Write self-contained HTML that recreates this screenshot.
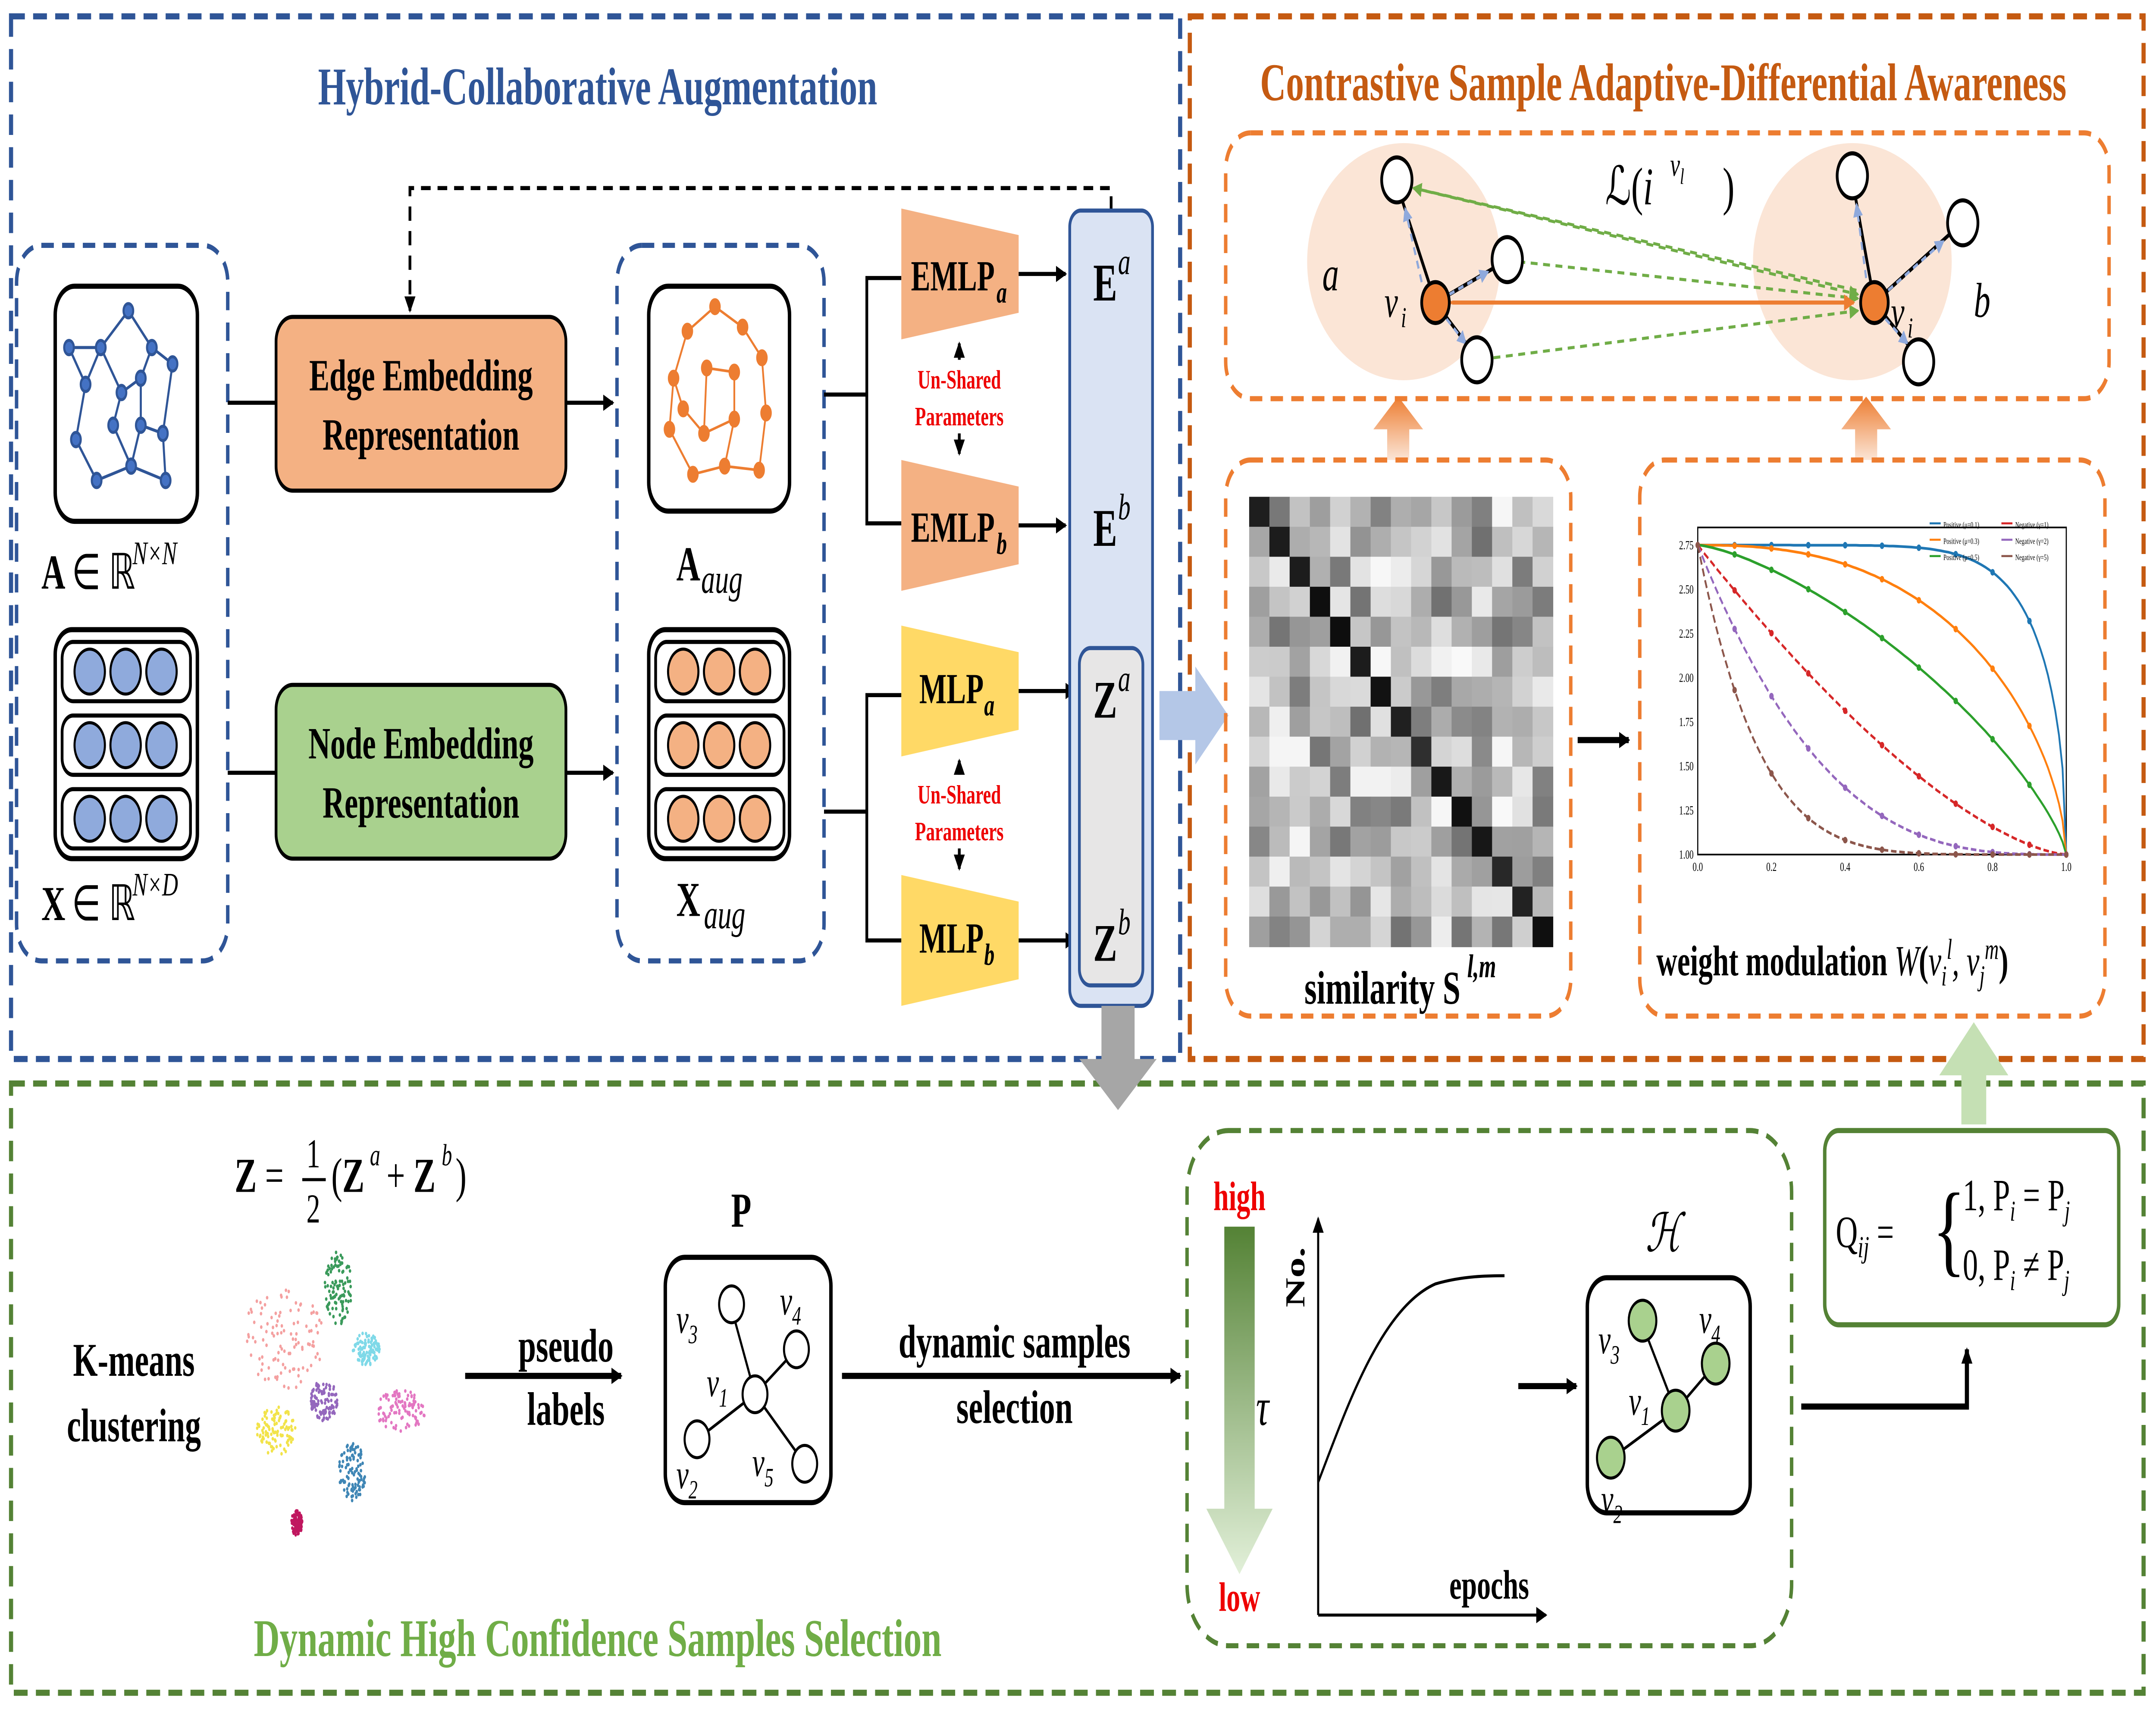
<!DOCTYPE html>
<html><head><meta charset="utf-8">
<style>
html,body{margin:0;padding:0;background:#fff;width:100%;height:100%;overflow:hidden;}
svg{display:block;position:absolute;left:0;top:0;width:100vw;height:100vh;}
text{font-family:"Liberation Serif",serif;}
.b{font-weight:bold;}
</style></head>
<body>
<svg id="s" viewBox="0 0 1562 842.3" preserveAspectRatio="none" xmlns="http://www.w3.org/2000/svg">
<defs>
<marker id="ar" markerWidth="8" markerHeight="8" refX="7" refY="4" orient="auto" markerUnits="userSpaceOnUse"><path d="M0,0 L8,4 L0,8 z" fill="#000"/></marker>
<marker id="arO" markerWidth="8" markerHeight="8" refX="7" refY="4" orient="auto" markerUnits="userSpaceOnUse"><path d="M0,0 L8,4 L0,8 z" fill="#ed7d31"/></marker>
<marker id="arG" markerWidth="7" markerHeight="7" refX="6" refY="3.5" orient="auto" markerUnits="userSpaceOnUse"><path d="M0,0 L7,3.5 L0,7 z" fill="#70ad47"/></marker>
<marker id="arB" markerWidth="7" markerHeight="7" refX="6" refY="3.5" orient="auto" markerUnits="userSpaceOnUse"><path d="M0,0 L7,3.5 L0,7 z" fill="#8fa9dc"/></marker>
<linearGradient id="gg" x1="0" y1="0" x2="0" y2="1"><stop offset="0" stop-color="#548235"/><stop offset="1" stop-color="#e2f0d9"/></linearGradient>
<linearGradient id="og" x1="0" y1="1" x2="0" y2="0"><stop offset="0" stop-color="#fbe5d6"/><stop offset="1" stop-color="#ed7d31"/></linearGradient>
</defs>

<rect x="8" y="8" width="847" height="510" fill="none" stroke="#2f5597" stroke-width="3" stroke-dasharray="10,6"/>
<rect x="862" y="8" width="691" height="510" fill="none" stroke="#c55a11" stroke-width="3" stroke-dasharray="10,6"/>
<rect x="8" y="530" width="1545" height="298" fill="none" stroke="#548235" stroke-width="3" stroke-dasharray="10,6"/>
<text x="433" y="51" text-anchor="middle" class="b" font-size="26" fill="#2f5597">Hybrid-Collaborative Augmentation</text>
<text x="1205" y="49" text-anchor="middle" class="b" font-size="26" fill="#c55a11">Contrastive Sample Adaptive-Differential Awareness</text>
<text x="433" y="810" text-anchor="middle" class="b" font-size="26" fill="#70ad47">Dynamic High Confidence Samples Selection</text>

<rect x="12" y="120" width="153" height="350" rx="18" fill="none" stroke="#2f5597" stroke-width="2.5" stroke-dasharray="9,6"/>
<rect x="40" y="140" width="103" height="115" rx="14" fill="#fff" stroke="#000" stroke-width="2.5"/>
<g id="g1" stroke="#2f5597" stroke-width="1.5" fill="#4472c4"></g>
<text x="30" y="288" class="b" font-size="24">A</text><text x="52" y="288" font-size="24">∈ ℝ</text><text x="96" y="276" font-size="16" font-style="italic">N×N</text>
<rect x="40" y="308" width="103" height="112" rx="12" fill="#fff" stroke="#000" stroke-width="2.5"/>
<g id="fx1"></g>
<text x="30" y="450" class="b" font-size="24">X</text><text x="52" y="450" font-size="24">∈ ℝ</text><text x="96" y="438" font-size="16" font-style="italic">N×D</text>

<line x1="165" y1="197" x2="200" y2="197" stroke="#000" stroke-width="2"/>
<line x1="165" y1="378" x2="200" y2="378" stroke="#000" stroke-width="2"/>
<rect x="200" y="155" width="210" height="85" rx="12" fill="#f4b183" stroke="#000" stroke-width="2"/>
<text x="305" y="191" text-anchor="middle" class="b" font-size="22">Edge Embedding</text>
<text x="305" y="220" text-anchor="middle" class="b" font-size="22">Representation</text>
<rect x="200" y="335" width="210" height="85" rx="12" fill="#a9d18e" stroke="#000" stroke-width="2"/>
<text x="305" y="371" text-anchor="middle" class="b" font-size="22">Node Embedding</text>
<text x="305" y="400" text-anchor="middle" class="b" font-size="22">Representation</text>
<line x1="410" y1="197" x2="444" y2="197" stroke="#000" stroke-width="2" marker-end="url(#ar)"/>
<line x1="410" y1="378" x2="444" y2="378" stroke="#000" stroke-width="2" marker-end="url(#ar)"/>

<path d="M805,103 V92 H297 V152" fill="none" stroke="#000" stroke-width="2" stroke-dasharray="7,5" marker-end="url(#ar)"/>

<rect x="447" y="120" width="150" height="350" rx="18" fill="none" stroke="#2f5597" stroke-width="2.5" stroke-dasharray="9,6"/>
<rect x="470" y="140" width="102" height="110" rx="14" fill="#fff" stroke="#000" stroke-width="2.5"/>
<g id="g2" stroke="#ed7d31" stroke-width="1.3" fill="#ed7d31"></g>
<text x="490" y="284" class="b" font-size="24">A</text><text x="508" y="290" font-size="20" font-style="italic">aug</text>
<rect x="470" y="308" width="102" height="112" rx="12" fill="#fff" stroke="#000" stroke-width="2.5"/>
<g id="fx2"></g>
<text x="490" y="448" class="b" font-size="24">X</text><text x="510" y="454" font-size="20" font-style="italic">aug</text>

<path d="M597,193 H628 V136 H653 M628,193 V256 H653" fill="none" stroke="#000" stroke-width="2"/>
<path d="M597,397 H628 V340 H653 M628,397 V460 H653" fill="none" stroke="#000" stroke-width="2"/>

<polygon points="653,102 738,115 738,153 653,166" fill="#f4b183"/>
<polygon points="653,225 738,238 738,276 653,289" fill="#f4b183"/>
<polygon points="653,306 738,319 738,357 653,370" fill="#ffd966"/>
<polygon points="653,428 738,441 738,479 653,492" fill="#ffd966"/>
<text x="660" y="142" class="b" font-size="21">EMLP</text><text x="722" y="148" class="b" font-size="15" font-style="italic">a</text>
<text x="660" y="265" class="b" font-size="21">EMLP</text><text x="722" y="271" class="b" font-size="15" font-style="italic">b</text>
<text x="666" y="344" class="b" font-size="21">MLP</text><text x="713" y="350" class="b" font-size="15" font-style="italic">a</text>
<text x="666" y="466" class="b" font-size="21">MLP</text><text x="713" y="472" class="b" font-size="15" font-style="italic">b</text>
<text x="695" y="190" text-anchor="middle" class="b" font-size="13" fill="#e00">Un-Shared</text>
<text x="695" y="208" text-anchor="middle" class="b" font-size="13" fill="#e00">Parameters</text>
<text x="695" y="393" text-anchor="middle" class="b" font-size="13" fill="#e00">Un-Shared</text>
<text x="695" y="411" text-anchor="middle" class="b" font-size="13" fill="#e00">Parameters</text>
<line x1="695" y1="176" x2="695" y2="168" stroke="#000" stroke-width="2" marker-end="url(#ar)"/>
<line x1="695" y1="212" x2="695" y2="222" stroke="#000" stroke-width="2" marker-end="url(#ar)"/>
<line x1="695" y1="379" x2="695" y2="372" stroke="#000" stroke-width="2" marker-end="url(#ar)"/>
<line x1="695" y1="415" x2="695" y2="425" stroke="#000" stroke-width="2" marker-end="url(#ar)"/>
<line x1="738" y1="134" x2="772" y2="134" stroke="#000" stroke-width="2" marker-end="url(#ar)"/>
<line x1="738" y1="257" x2="772" y2="257" stroke="#000" stroke-width="2" marker-end="url(#ar)"/>
<line x1="738" y1="338" x2="779" y2="338" stroke="#000" stroke-width="2" marker-end="url(#ar)"/>
<line x1="738" y1="460" x2="779" y2="460" stroke="#000" stroke-width="2" marker-end="url(#ar)"/>

<rect x="775" y="103" width="60" height="389" rx="8" fill="#dae3f3" stroke="#2f5597" stroke-width="2"/>
<rect x="782" y="317" width="46" height="165" rx="8" fill="#e7e6e6" stroke="#2f5597" stroke-width="2"/>
<text x="792" y="147" class="b" font-size="26">E</text><text x="810" y="134" font-size="18" font-style="italic">a</text>
<text x="792" y="267" class="b" font-size="26">E</text><text x="810" y="254" font-size="18" font-style="italic">b</text>
<text x="792" y="351" class="b" font-size="26">Z</text><text x="810" y="338" font-size="18" font-style="italic">a</text>
<text x="792" y="470" class="b" font-size="26">Z</text><text x="810" y="457" font-size="18" font-style="italic">b</text>

<polygon points="798,492 822,492 822,518 838,518 810,543 782,518 798,518" fill="#a6a6a6"/>
<polygon points="840,338 866,338 866,326 890,350 866,374 866,362 840,362" fill="#b4c7e7"/>
<polygon points="1421,550 1439,550 1439,526 1455,526 1430,500 1405,526 1421,526" fill="#c5e0b4"/>
<polygon points="1005,225 1021,225 1021,210 1031,210 1013,194 995,210 1005,210" fill="url(#og)"/>
<polygon points="1344,225 1360,225 1360,210 1370,210 1352,194 1334,210 1344,210" fill="url(#og)"/>

<rect x="888" y="65" width="640" height="130" rx="18" fill="none" stroke="#ed7d31" stroke-width="2.5" stroke-dasharray="9,6"/>
<ellipse cx="1017" cy="128" rx="70" ry="58" fill="#fbe5d6"/>
<ellipse cx="1342" cy="128" rx="72" ry="58" fill="#fbe5d6"/>
<g stroke="#000" stroke-width="2">
<line x1="1040" y1="148" x2="1012" y2="90"/><line x1="1040" y1="148" x2="1090" y2="128"/><line x1="1040" y1="148" x2="1070" y2="175"/>
<line x1="1358" y1="148" x2="1342" y2="88"/><line x1="1358" y1="148" x2="1420" y2="110"/><line x1="1358" y1="148" x2="1390" y2="175"/>
</g>
<g stroke="#8fa9dc" stroke-width="1.5" stroke-dasharray="4,3" marker-end="url(#arB)">
<line x1="1030" y1="138" x2="1018" y2="102"/><line x1="1050" y1="144" x2="1078" y2="133"/><line x1="1048" y1="156" x2="1062" y2="168"/>
<line x1="1352" y1="136" x2="1345" y2="100"/><line x1="1368" y1="142" x2="1408" y2="118"/><line x1="1366" y1="156" x2="1382" y2="168"/>
</g>
<g stroke="#70ad47" stroke-width="1.5" stroke-dasharray="5,4" marker-end="url(#arG)">
<line x1="1024" y1="92" x2="1346" y2="144"/><line x1="1100" y1="128" x2="1346" y2="146"/><line x1="1082" y1="175" x2="1346" y2="152"/>
<line x1="1345" y1="142" x2="1024" y2="92"/>
</g>
<line x1="1052" y1="148" x2="1343" y2="148" stroke="#ed7d31" stroke-width="2" marker-end="url(#arO)" marker-start="url(#arO)"/>
<g fill="#fff" stroke="#000" stroke-width="2">
<circle cx="1012" cy="88" r="11"/><circle cx="1092" cy="127" r="11"/><circle cx="1070" cy="176" r="11"/>
<circle cx="1342" cy="86" r="11"/><circle cx="1422" cy="109" r="11"/><circle cx="1390" cy="177" r="11"/>
</g>
<circle cx="1040" cy="148" r="10" fill="#ed7d31" stroke="#000" stroke-width="2"/>
<circle cx="1358" cy="148" r="10" fill="#ed7d31" stroke="#000" stroke-width="2"/>
<text x="958" y="142" font-size="24" font-style="italic">a</text>
<text x="1430" y="155" font-size="24" font-style="italic">b</text>
<text x="1003" y="155" font-size="22" font-style="italic">v</text><text x="1015" y="160" font-size="14" font-style="italic">i</text>
<text x="1370" y="160" font-size="22" font-style="italic">v</text><text x="1382" y="165" font-size="14" font-style="italic">i</text>
<text x="1163" y="100" font-size="26">ℒ(<tspan font-style="italic">i</tspan></text><text x="1210" y="86" font-size="16" font-style="italic">v<tspan font-size="11" dy="4">l</tspan></text><text x="1248" y="100" font-size="26">)</text>

<rect x="888" y="225" width="250" height="272" rx="18" fill="none" stroke="#ed7d31" stroke-width="2.5" stroke-dasharray="9,6"/>
<g id="hm"></g>
<text x="945" y="491" class="b" font-size="23">similarity S</text><text x="1063" y="478" class="b" font-size="16" font-style="italic">l,m</text>
<line x1="1143" y1="362" x2="1180" y2="362" stroke="#000" stroke-width="3" marker-end="url(#ar)"/>

<rect x="1188" y="225" width="337" height="272" rx="18" fill="none" stroke="#ed7d31" stroke-width="2.5" stroke-dasharray="9,6"/>
<g id="plot"></g>
<text x="1200" y="477" class="b" font-size="21">weight modulation <tspan font-style="italic" font-weight="normal">W</tspan>(<tspan font-style="italic" font-weight="normal">v<tspan font-size="14" dy="5">i</tspan><tspan font-size="14" dy="-13">l</tspan><tspan dy="8">, v</tspan><tspan font-size="14" dy="5">j</tspan><tspan font-size="14" dy="-13">m</tspan></tspan><tspan dy="8">)</tspan></text>

<text x="170" y="583" class="b" font-size="24">Z</text><text x="192" y="583" font-size="24">=</text>
<text x="222" y="571" font-size="20">1</text><line x1="219" y1="577" x2="236" y2="577" stroke="#000" stroke-width="1.5"/><text x="222" y="598" font-size="20">2</text>
<text x="240" y="583" font-size="24">(<tspan font-weight="bold">Z</tspan></text><text x="268" y="570" font-size="15" font-style="italic">a</text>
<text x="280" y="583" font-size="24">+ <tspan font-weight="bold">Z</tspan></text><text x="320" y="570" font-size="15" font-style="italic">b</text><text x="330" y="583" font-size="24">)</text>
<g id="sc"></g>
<text x="97" y="673" text-anchor="middle" class="b" font-size="23">K-means</text>
<text x="97" y="705" text-anchor="middle" class="b" font-size="23">clustering</text>
<line x1="337" y1="673" x2="450" y2="673" stroke="#000" stroke-width="3" marker-end="url(#ar)"/>
<text x="410" y="666" text-anchor="middle" class="b" font-size="23">pseudo</text>
<text x="410" y="697" text-anchor="middle" class="b" font-size="23">labels</text>
<text x="537" y="600" text-anchor="middle" class="b" font-size="24">P</text>
<rect x="482" y="615" width="120" height="120" rx="14" fill="#fff" stroke="#000" stroke-width="2.5"/>
<g stroke="#000" stroke-width="1.5"><line x1="547" y1="682" x2="530" y2="640"/><line x1="547" y1="682" x2="577" y2="660"/><line x1="547" y1="682" x2="507" y2="703"/><line x1="547" y1="682" x2="582" y2="715"/></g>
<g fill="#fff" stroke="#000" stroke-width="1.5"><circle cx="530" cy="638" r="9"/><circle cx="577" cy="660" r="9"/><circle cx="547" cy="682" r="9"/><circle cx="505" cy="704" r="9"/><circle cx="583" cy="716" r="9"/></g>
<g font-size="20" font-style="italic"><text x="490" y="652">v<tspan font-size="13" dy="5">3</tspan></text><text x="565" y="643">v<tspan font-size="13" dy="5">4</tspan></text><text x="512" y="683">v<tspan font-size="13" dy="5">1</tspan></text><text x="490" y="728">v<tspan font-size="13" dy="5">2</tspan></text><text x="545" y="722">v<tspan font-size="13" dy="5">5</tspan></text></g>
<line x1="610" y1="673" x2="855" y2="673" stroke="#000" stroke-width="3" marker-end="url(#ar)"/>
<text x="735" y="664" text-anchor="middle" class="b" font-size="23">dynamic samples</text>
<text x="735" y="696" text-anchor="middle" class="b" font-size="23">selection</text>

<rect x="860" y="553" width="438" height="252" rx="30" fill="none" stroke="#548235" stroke-width="2.5" stroke-dasharray="9,6"/>
<text x="898" y="592" text-anchor="middle" class="b" font-size="20" fill="#e00">high</text>
<text x="898" y="788" text-anchor="middle" class="b" font-size="20" fill="#e00">low</text>
<polygon points="887,600 909,600 909,738 922,738 898,770 874,738 887,738" fill="url(#gg)"/>
<text x="910" y="697" font-size="26" font-style="italic">τ</text>
<line x1="955" y1="790" x2="955" y2="596" stroke="#000" stroke-width="1.5" marker-end="url(#ar)"/>
<line x1="955" y1="790" x2="1120" y2="790" stroke="#000" stroke-width="1.5" marker-end="url(#ar)"/>
<text x="945" y="610" class="b" font-size="20" transform="rotate(-90 945 610)" text-anchor="end">No.</text>
<text x="1050" y="782" class="b" font-size="20">epochs</text>
<path d="M955,725 C975,690 1000,640 1040,628 C1060,624 1080,624 1090,624" fill="none" stroke="#000" stroke-width="1.5"/>
<line x1="1100" y1="678" x2="1142" y2="678" stroke="#000" stroke-width="3" marker-end="url(#ar)"/>
<text x="1205" y="612" text-anchor="middle" font-size="26" font-style="italic">ℋ</text>
<rect x="1150" y="625" width="118" height="115" rx="14" fill="#fff" stroke="#000" stroke-width="2.5"/>
<g stroke="#000" stroke-width="1.5"><line x1="1214" y1="690" x2="1190" y2="648"/><line x1="1214" y1="690" x2="1243" y2="667"/><line x1="1214" y1="690" x2="1168" y2="713"/></g>
<g fill="#a9d18e" stroke="#000" stroke-width="1.5"><circle cx="1190" cy="646" r="10"/><circle cx="1243" cy="667" r="10"/><circle cx="1214" cy="690" r="10"/><circle cx="1167" cy="713" r="10"/></g>
<g font-size="20" font-style="italic"><text x="1158" y="662">v<tspan font-size="13" dy="5">3</tspan></text><text x="1231" y="652">v<tspan font-size="13" dy="5">4</tspan></text><text x="1180" y="692">v<tspan font-size="13" dy="5">1</tspan></text><text x="1160" y="740">v<tspan font-size="13" dy="5">2</tspan></text></g>
<path d="M1305,688 H1425 V660" fill="none" stroke="#000" stroke-width="3" marker-end="url(#ar)"/>
<rect x="1322" y="553" width="213" height="95" rx="10" fill="#fff" stroke="#548235" stroke-width="2.5"/>
<text x="1330" y="610" font-size="22">Q<tspan font-style="italic" font-size="15" dy="5">ij</tspan><tspan dy="-5"> =</tspan></text>
<text x="1400" y="618" font-size="50">{</text>
<text x="1422" y="592" font-size="22">1,  P<tspan font-size="14" dy="5" font-style="italic">i</tspan><tspan dy="-5"> = P</tspan><tspan font-size="14" dy="5" font-style="italic">j</tspan></text>
<text x="1422" y="626" font-size="22">0,  P<tspan font-size="14" dy="5" font-style="italic">i</tspan><tspan dy="-5"> ≠ P</tspan><tspan font-size="14" dy="5" font-style="italic">j</tspan></text>
</svg>
<script>
var NS="http://www.w3.org/2000/svg";
function el(p,t,a){var e=document.createElementNS(NS,t);for(var k in a)e.setAttribute(k,a[k]);p.appendChild(e);return e;}
function graph(id,ox,oy,pts,edges,r){var g=document.getElementById(id);
edges.forEach(function(e){el(g,'line',{x1:ox+pts[e[0]][0],y1:oy+pts[e[0]][1],x2:ox+pts[e[1]][0],y2:oy+pts[e[1]][1]});});
pts.forEach(function(p){el(g,'circle',{cx:ox+p[0],cy:oy+p[1],r:r});});}
var p1=[[53,12],[33,30],[70,30],[22,48],[48,52],[62,45],[85,38],[15,75],[42,68],[62,68],[78,72],[30,95],[55,88],[80,95],[10,30]];
var e1=[[0,1],[0,2],[1,3],[1,4],[2,5],[2,6],[3,7],[4,8],[5,9],[6,10],[7,11],[8,12],[9,12],[10,13],[11,12],[12,13],[4,5],[14,1],[14,3],[9,10]];
graph('g1',40,140,p1,e1,3.5);
var p2=[[48,10],[28,22],[68,20],[18,45],[42,40],[62,42],[82,35],[15,70],[40,72],[62,65],[85,62],[32,92],[55,88],[80,90],[25,60]];
var e2=[[0,1],[0,2],[1,3],[2,6],[3,7],[4,5],[5,9],[6,10],[7,11],[8,9],[9,12],[10,13],[11,12],[12,13],[4,8],[14,3],[14,8]];
graph('g2',470,140,p2,e2,3.5);
function feat(id,ox,oy,col){var g=document.getElementById(id);
for(var i=0;i<3;i++){el(g,'rect',{x:ox+5,y:oy+6+i*36,width:93,height:29,rx:8,fill:'#fff',stroke:'#000','stroke-width':2});
for(var j=0;j<3;j++)el(g,'circle',{cx:ox+25+j*26,cy:oy+20.5+i*36,r:11,fill:col,stroke:'#000','stroke-width':1.5});}}
feat('fx1',40,308,'#8faadc');feat('fx2',470,308,'#f4b183');
var hm=document.getElementById('hm'),n=15,cs=220/n,seed=7;
function rnd(){seed=(seed*9301+49297)%233280;return seed/233280;}
for(var i=0;i<n;i++)for(var j=0;j<n;j++){var v=(i==j)?10+rnd()*40:150+rnd()*100;if(i!=j&&rnd()<0.15)v=110+rnd()*40;v=Math.round(v);
el(hm,'rect',{x:905+j*cs,y:243+i*cs,width:cs+0.3,height:cs+0.3,fill:'rgb('+v+','+v+','+v+')'});}
var pg=document.getElementById('plot'),X0=1230,X1=1497,Y0=258,Y1=418;
el(pg,'rect',{x:X0,y:Y0,width:X1-X0,height:Y1-Y0,fill:'none',stroke:'#000','stroke-width':0.8});
function px(x){return X0+x*(X1-X0);}function py(y){return Y1-(y-1)/1.85*(Y1-Y0);}
[1,1.25,1.5,1.75,2,2.25,2.5,2.75].forEach(function(t){var tt=el(pg,'text',{x:X0-3,y:py(t)+2,'font-size':6,'text-anchor':'end','font-family':'Liberation Sans'});tt.textContent=t.toFixed(2);});
[0,0.2,0.4,0.6,0.8,1].forEach(function(t){var tt=el(pg,'text',{x:px(t),y:Y1+8,'font-size':6,'text-anchor':'middle','font-family':'Liberation Sans'});tt.textContent=t.toFixed(1);});
var curves=[['#1f77b4',function(x){return 1+1.75*Math.pow(1-Math.pow(x,8),0.5)}],['#ff7f0e',function(x){return 1+1.75*Math.pow(1-Math.pow(x,2.5),0.6)}],['#2ca02c',function(x){return 1+1.75*Math.pow(1-Math.pow(x,1.4),0.75)}],
['#d62728',function(x){return 1+1.75*Math.pow(1-x,1.5)}],['#9467bd',function(x){return 1+1.75*Math.pow(1-x,3)}],['#8c564b',function(x){return 1+1.75*Math.pow(1-x,6)}]];
curves.forEach(function(c,k){var d='';for(var i=0;i<=100;i++){var x=i/100;d+=(i?'L':'M')+px(x).toFixed(1)+','+py(c[1](x)).toFixed(1);}
el(pg,'path',{d:d,fill:'none',stroke:c[0],'stroke-width':1.3,'stroke-dasharray':k>2?'4,2':'none'});
for(var i=0;i<=10;i++){var x=i/10;el(pg,'circle',{cx:px(x),cy:py(c[1](x)),r:1.6,fill:c[0]});}});
var lg=['Positive (μ=0.1)','Positive (μ=0.3)','Positive (μ=0.5)','Negative (γ=1)','Negative (γ=2)','Negative (γ=5)'];
lg.forEach(function(s,k){var lx=k<3?1398:1450,ly=256+(k%3)*8;el(pg,'line',{x1:lx,y1:ly,x2:lx+8,y2:ly,stroke:curves[k][0],'stroke-width':1});var t=el(pg,'text',{x:lx+10,y:ly+2,'font-size':4,'font-family':'Liberation Sans'});t.textContent=s;});
var sc=document.getElementById('sc');seed=3;
var cl=[[205,655,'#f4a0a0',30,25],[245,630,'#3a9a5b',10,18],[290,690,'#e377c2',18,10],[265,660,'#7fd9e8',10,8],[200,700,'#f2e34a',14,12],[255,720,'#3f86b5',10,14],[215,745,'#c0175f',4,6],[235,685,'#9467bd',10,10]];
cl.forEach(function(c){for(var i=0;i<110;i++){var a=rnd()*6.283,r=Math.sqrt(rnd());el(sc,'circle',{cx:c[0]+Math.cos(a)*r*c[3],cy:c[1]+Math.sin(a)*r*c[4],r:0.9,fill:c[2]});}});
</script>
</body></html>
